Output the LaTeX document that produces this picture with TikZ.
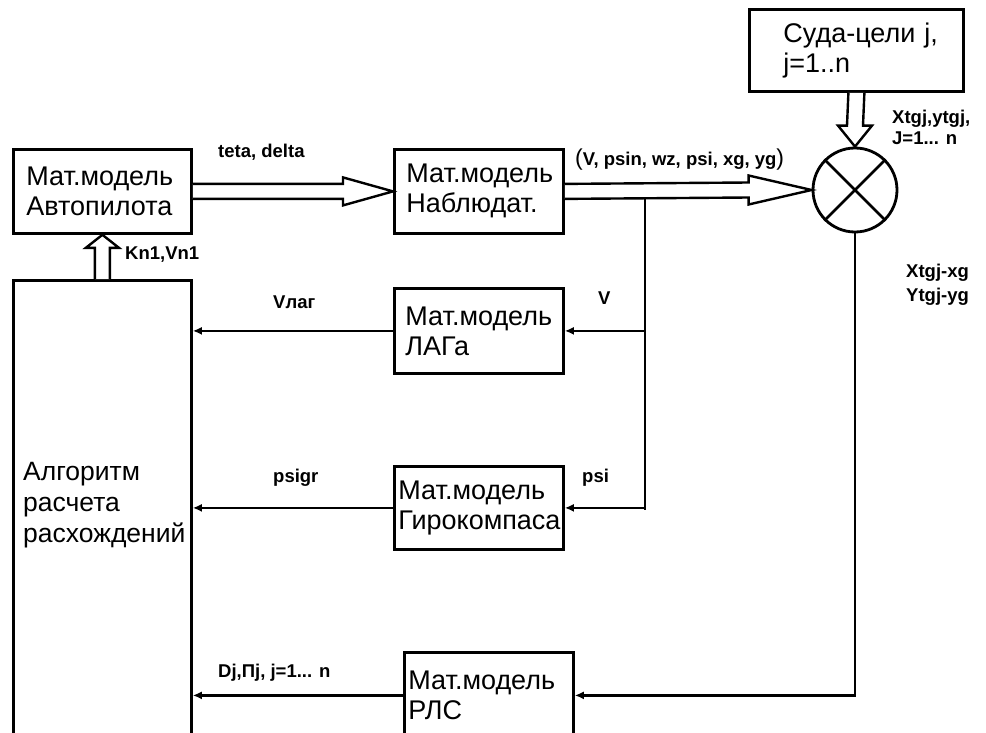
\documentclass[tikz,border=0pt]{standalone}
\usepackage{fontspec}
\setmainfont{Liberation Sans}
\usetikzlibrary{arrows.meta,calc,positioning}

\tikzset{
	blok/.style={draw, line width=2.8pt, rectangle, anchor=north west, align=left, font=\fontsize{27}{30}\selectfont},
	sig/.style={font=\bfseries\fontsize{18.5}{21}\selectfont, inner sep=0pt, anchor=west, align=left},
	line/.style={line width=2.8pt},
	arr/.style={line width=2.8pt, -{Latex[length=9pt,width=8pt]}},
	fat/.style={line width=2.4pt, line join=miter, fill=white},
}

\begin{document}
\begin{tikzpicture}[x=1pt, y=-1pt]

		\useasboundingbox (0,0) rectangle (986,733);
		\clip (0,0) rectangle (986,733);

		% define blocks

		\node[blok, minimum width=178pt, minimum height=84pt, text width=152pt, inner xsep=13pt] (autopilot) at (12,148) {Мат.модель\\Автопилота};

		\node[blok, minimum width=169pt, minimum height=84pt, text width=145pt, inner xsep=12pt] (observer) at (393,148) {Мат.модель\\Наблюдат.};

		\node[blok, minimum width=169pt, minimum height=85pt, text width=147pt, inner xsep=11pt] (lag) at (393,287) {Мат.модель\\ЛАГа};

		\node[blok, minimum width=169pt, minimum height=83pt, text width=161pt, inner xsep=4pt] (gyro) at (393,465) {Мат.модель\\Гирокомпаса};

		\node[blok, minimum width=169pt, minimum height=86pt, text width=161pt, inner xsep=4pt] (rls) at (403,651) {Мат.модель\\РЛС};

		\node[blok, minimum width=214pt, minimum height=82pt, text width=146pt, inner xsep=34pt] (targets) at (748,8) {\raisebox{-5pt}{Суда-цели j,}\\\raisebox{-5pt}{j=1..n}};

		\node[blok, minimum width=178pt, minimum height=500pt] (algo) at (12,279) {};

		\node[anchor=west, align=left, inner sep=0pt, font=\fontsize{26.5}{31}\selectfont] (algotxt) at (23,505) {Алгоритм\\расчета\\расхождений};

		\node[draw, circle, line width=2.8pt, minimum size=84pt] (sum) at (855,190) {};

		\draw[line] (sum.north west) -- (sum.south east);

		\draw[line] (sum.north east) -- (sum.south west);

		% fat arrows

		\draw[fat] ($(autopilot.east)+(0,-7.5)$) -- ($(observer.west)+(-50,-7.5)$) -- ($(observer.west)+(-50,-14)$) -- (observer.west) -- ($(observer.west)+(-50,14)$) -- ($(observer.west)+(-50,7.5)$) -- ($(autopilot.east)+(0,7.5)$);

		\draw[fat] ($(observer.east)+(0,-7.5)$) -- ($(sum.west)+(-63,-7.5)$) -- ($(sum.west)+(-63,-14.5)$) -- (sum.west) -- ($(sum.west)+(-63,14.5)$) -- ($(sum.west)+(-63,7.5)$) -- ($(observer.east)+(0,7.5)$);

		\draw[fat] ($(targets.south)+(-8,0)$) -- ($(sum.north)+(-8,-21)$) -- ($(sum.north)+(-17,-21)$) -- (sum.north) -- ($(sum.north)+(17,-21)$) -- ($(sum.north)+(8,-21)$) -- ($(targets.south)+(8,0)$);

		\draw[fat] ($(algo.north)+(-7.5,0)$) -- ($(autopilot.south)+(-7.5,13)$) -- ($(autopilot.south)+(-16.5,13)$) -- (autopilot.south) -- ($(autopilot.south)+(16.5,13)$) -- ($(autopilot.south)+(7.5,13)$) -- ($(algo.north)+(7.5,0)$);

		% signal lines

		\coordinate (tap) at (645,197.5);

		\coordinate (tapend) at (645,510);

		\draw[line] (tap) -- (tapend);

		\draw[arr] (tap |- lag.east) -- (lag.east);

		\draw[arr] (tap |- gyro.east) -- (gyro.east);

		\draw[arr] (lag.west) -- (lag.west -| algo.east);

		\draw[arr] (gyro.west) -- (gyro.west -| algo.east);

		\draw[arr] (sum.south) |- (rls.east);

		\draw[arr] (rls.west) -- (rls.west -| algo.east);

		% labels

		\node[sig] (tetalbl) at (218,152) {teta, delta};

		\node[sig] (outlbl) at (575,160) {{\mdseries\fontsize{23}{23}\selectfont(}V, psin, wz, psi, xg, yg{\mdseries\fontsize{23}{23}\selectfont)}};

		\node[sig] (trglbl) at (892,127) {Xtgj,ytgj,\\J=1... n};

		\node[sig] (errlbl) at (906,284.5) {Xtgj-xg\\[3pt]Ytgj-yg};

		\node[sig] (knlbl) at (125,255) {Kn1,Vn1};

		\node[sig] (vlaglbl) at (273,302) {Vлаг};

		\node[sig] (vlbl) at (598,298) {V};

		\node[sig] (psilbl) at (582,478) {psi};

		\node[sig] (psigrlbl) at (273,478) {psigr};

		\node[sig] (djlbl) at (218,673) {Dj,Пj, j=1... n};

	\end{tikzpicture}
\end{document}
